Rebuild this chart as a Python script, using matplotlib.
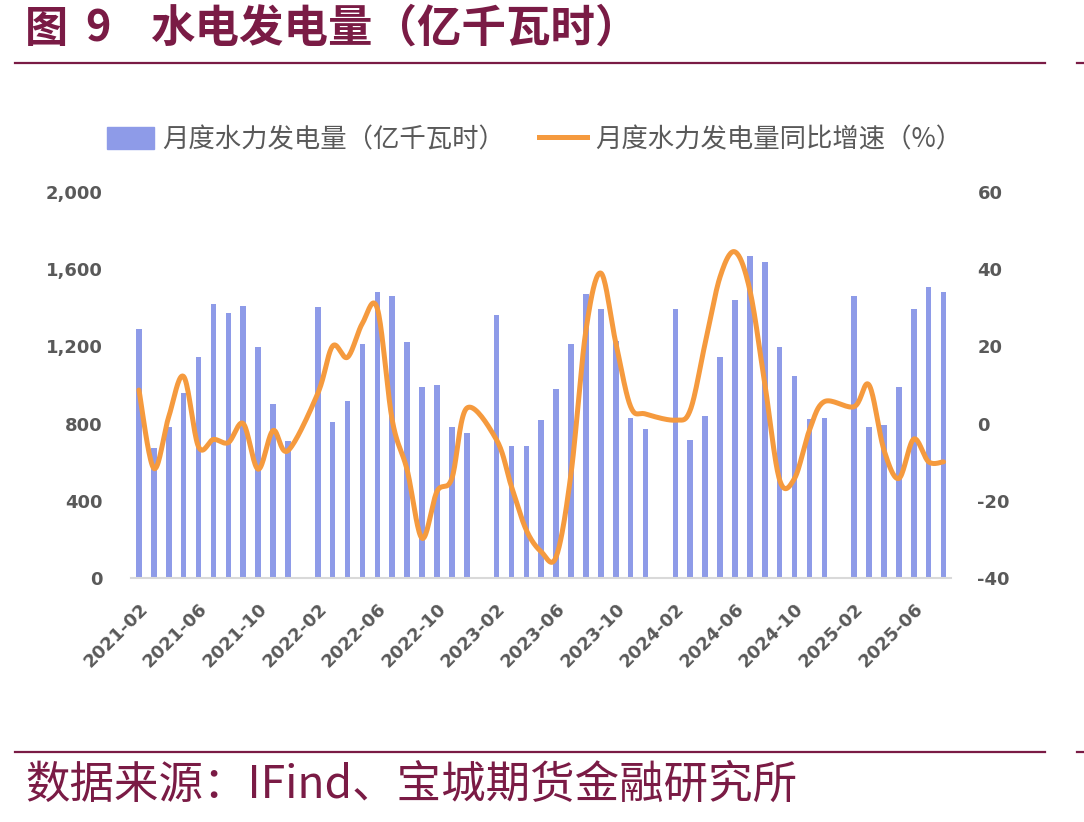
import matplotlib
matplotlib.use("Agg")
import matplotlib.pyplot as plt
import numpy as np
import pandas as pd
from matplotlib.lines import Line2D
from matplotlib.patches import Patch

plt.rcParams['font.family'] = ['Noto Sans CJK SC', 'DejaVu Sans']

# data (Jan values are not published -> NaN)
months = list(pd.period_range('2021-02', '2025-08', freq='M').strftime('%Y-%m'))

generation = [1290, 672, 781, 958, 1147, 1421, 1373, 1411, 1195, 900, 711,
              np.nan, 1402, 810, 919, 1214, 1480, 1461, 1224, 988, 998, 781, 751,
              np.nan, 1361, 682, 682, 820, 977, 1214, 1470, 1392, 1230, 830, 772,
              np.nan, 1392, 713, 841, 1147, 1440, 1670, 1637, 1195, 1047, 822, 830,
              np.nan, 1461, 781, 791, 988, 1392, 1509, 1480]

yoy = [8.7, -11.6, 1.8, 12.2, -6.0, -4.1, -4.9, 0.0, -11.8, -1.8, -7.0,
       np.nan, 7.8, 20.1, 17.2, 26.0, 29.8, 0.9, -12.0, -29.7, -17.6, -14.2, 4.0,
       np.nan, -4.2, -16.3, -27.6, -33.2, -34.5, -12.9, 24.2, 39.0, 21.0, 4.4, 2.5,
       np.nan, 0.9, 3.5, 20.8, 38.0, 44.5, 34.6, 10.4, -14.6, -14.2, -1.7, 5.7,
       np.nan, 4.4, 10.0, -6.8, -14.2, -4.0, -9.9, -9.9]

tick_step = 4
bar_label = '月度水力发电量（亿千瓦时）'
line_label = '月度水力发电量同比增速（%）'

BAR_COLOR = '#8E9BE8'
LINE_COLOR = '#F59A3E'
MAROON = '#7A1B45'
GRAY = '#595959'


def smooth(xs, ys, n=20):
    # Excel-like smoothed line (uniform Catmull-Rom through the points)
    px = np.concatenate([[xs[0]], xs, [xs[-1]]])
    py = np.concatenate([[ys[0]], ys, [ys[-1]]])
    out_x, out_y = [], []
    t = np.linspace(0, 1, n, endpoint=False)
    for i in range(1, len(px) - 2):
        p0x, p1x, p2x, p3x = px[i - 1], px[i], px[i + 1], px[i + 2]
        p0y, p1y, p2y, p3y = py[i - 1], py[i], py[i + 1], py[i + 2]
        c1x, c1y = p1x + (p2x - p0x) / 6, p1y + (p2y - p0y) / 6
        c2x, c2y = p2x - (p3x - p1x) / 6, p2y - (p3y - p1y) / 6
        b0, b1, b2, b3 = (1 - t) ** 3, 3 * (1 - t) ** 2 * t, 3 * (1 - t) * t ** 2, t ** 3
        out_x.extend(b0 * p1x + b1 * c1x + b2 * c2x + b3 * p2x)
        out_y.extend(b0 * p1y + b1 * c1y + b2 * c2y + b3 * p2y)
    out_x.append(xs[-1])
    out_y.append(ys[-1])
    return np.array(out_x), np.array(out_y)


fig = plt.figure(figsize=(10.84, 8.22), dpi=100)
ax = fig.add_axes([0.1213, 0.2968, 0.756, 0.4696])
ax2 = ax.twinx()

x = np.arange(len(months))
ax.bar(x, generation, width=0.38, color=BAR_COLOR, zorder=2)

yv = np.array(yoy, dtype=float)
ok = ~np.isnan(yv)
sx, sy = smooth(x[ok].astype(float), yv[ok])
ax2.plot(sx, sy, color=LINE_COLOR, lw=3.6, solid_capstyle='round', zorder=3)

ax.set_xlim(-0.5, len(months) - 0.5)
ax.set_ylim(0, 2000)
ax2.set_ylim(-40, 60)
ax.set_yticks(np.arange(0, 2001, 400))
ax2.set_yticks(np.arange(-40, 61, 20))
ax.set_yticklabels([f'{v:,}' for v in range(0, 2001, 400)])
ax2.set_yticklabels([str(v) for v in range(-40, 61, 20)])

ax.set_xticks(x[::tick_step])
ax.set_xticklabels(months[::tick_step], rotation=45, ha='right', va='top',
                   rotation_mode='anchor')

tick_font = dict(family=['DejaVu Sans'], weight='bold', size=13, color=GRAY)
for lab in ax.get_xticklabels() + ax.get_yticklabels() + ax2.get_yticklabels():
    lab.set(**tick_font)

ax.tick_params(axis='x', length=0, pad=16)
ax.tick_params(axis='y', length=0, pad=21)
ax2.tick_params(axis='y', length=0, pad=19)

for a in (ax, ax2):
    for s in a.spines.values():
        s.set_visible(False)
ax.spines['bottom'].set_visible(True)
ax.spines['bottom'].set_color('#D9D9D9')
ax.spines['bottom'].set_linewidth(1.5)

handles = [Patch(color=BAR_COLOR), Line2D([0], [0], color=LINE_COLOR, lw=3.6)]
fig.legend(handles, [bar_label, line_label], loc='center', bbox_to_anchor=(0.493, 0.83),
           ncol=2, frameon=False, handlelength=1.8, handleheight=0.9, columnspacing=1.3,
           handletextpad=0.3, prop=dict(family=['Noto Sans CJK SC', 'DejaVu Sans'], size=19),
           labelcolor=GRAY)

# title, rules and source note
title_y = 1 - 29 / 822
fig.text(25 / 1084, title_y, '图', fontsize=31, fontweight='bold', color=MAROON, va='center')
fig.text(85 / 1084, title_y, '9', fontsize=31, fontweight='bold', color=MAROON, va='center')
fig.text(150 / 1084, title_y, '水电发电量（亿千瓦时）', fontsize=32, fontweight='bold',
         color=MAROON, va='center')
for yy in (1 - 63 / 822, 1 - 752 / 822):
    fig.add_artist(Line2D([0.014, 0.964], [yy, yy], color=MAROON, lw=1.6))
    fig.add_artist(Line2D([0.994, 1.0], [yy, yy], color=MAROON, lw=1.6))
fig.text(0.023, 1 - 785 / 822, '数据来源：IFind、宝城期货金融研究所', fontsize=32,
         color=MAROON, va='center', ha='left')

fig.savefig('out.png', dpi=100)
